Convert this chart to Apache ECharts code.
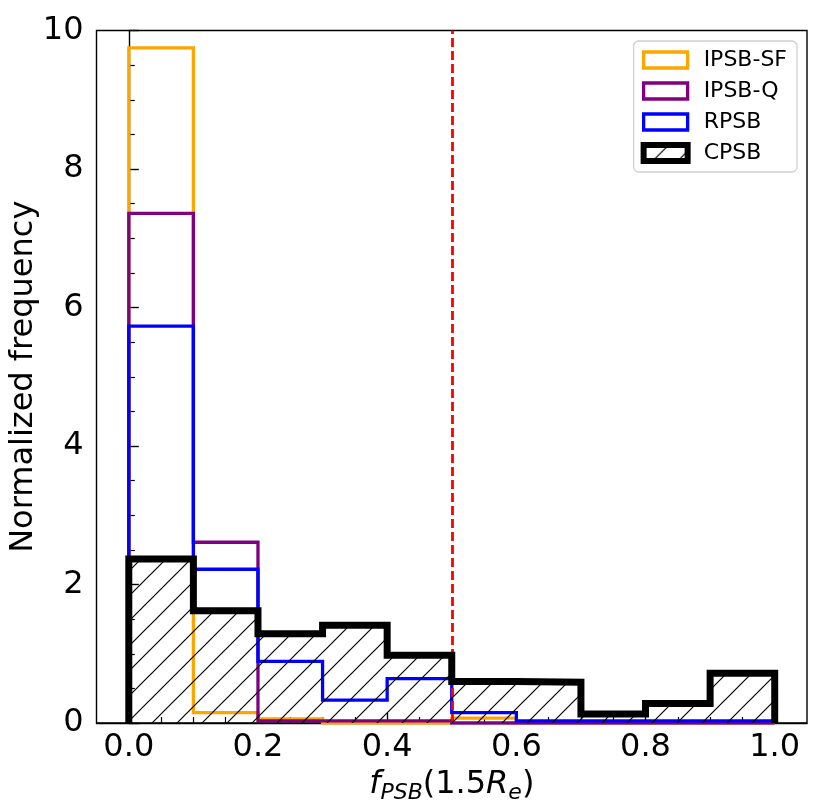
<!DOCTYPE html>
<html>
<head>
    <meta charset="utf-8">
    <title>f_PSB histogram</title>
    <script src="https://cdn.jsdelivr.net/npm/echarts@6/dist/echarts.min.js"></script>
</head>
<body style="margin:0">
<div id="main" style="width: 830px;height:805px;"></div>
<script type="text/javascript">

    /* data ==========================================*/
    var binEdges = [0.0, 0.1, 0.2, 0.3, 0.4, 0.5, 0.6, 0.7, 0.8, 0.9, 1.0];
    var ipsbSF = [9.75, 0.15, 0.06, 0.0, 0.0, 0.07, 0.0, 0.0, 0.0, 0.0];
    var ipsbQ  = [7.36, 2.61, 0.03, 0.03, 0.03, 0.0, 0.0, 0.0, 0.0, 0.0];
    var rpsb   = [5.73, 2.22, 0.89, 0.33, 0.64, 0.15, 0.03, 0.03, 0.03, 0.03];
    var cpsb   = [2.37, 1.62, 1.29, 1.41, 0.98, 0.60, 0.59, 0.13, 0.28, 0.72];
    var cutoff = 0.5;
    var xTicks = [0.0, 0.2, 0.4, 0.6, 0.8, 1.0];
    var xMinorTicks = [0.05, 0.1, 0.15, 0.25, 0.3, 0.35, 0.45, 0.5, 0.55, 0.65, 0.7, 0.75, 0.85, 0.9, 0.95];

    var FONT = 'DejaVu Sans';

    // histtype='step' outline from bin edges + heights
    function stepPoints(edges, h) {
        var pts = [[edges[0], 0]];
        for (var i = 0; i < h.length; i++) {
            pts.push([edges[i], h[i]]);
            pts.push([edges[i + 1], h[i]]);
        }
        pts.push([edges[edges.length - 1], 0]);
        return pts;
    }

    // '/' hatch tile
    function hatchTile() {
        var s = 25;
        var c = document.createElement('canvas');
        c.width = s; c.height = s;
        var g = c.getContext('2d');
        g.strokeStyle = '#000';
        g.lineWidth = 1.2;
        g.beginPath();
        g.moveTo(-2, s + 2); g.lineTo(s + 2, -2);
        g.moveTo(-2, 2); g.lineTo(2, -2);
        g.moveTo(s - 2, s + 2); g.lineTo(s + 2, s - 2);
        g.stroke();
        return c;
    }
    var hatch = {image: hatchTile(), repeat: 'repeat'};

    function stepSeries(name, h, color, width, z) {
        return {
            name: name,
            type: 'line',
            xAxisIndex: 0,
            data: stepPoints(binEdges, h),
            showSymbol: false,
            symbol: 'none',
            silent: true,
            z: z,
            lineStyle: {color: color, width: width, join: 'miter'},
            itemStyle: {color: color}
        };
    }

    var myChart = echarts.init(document.getElementById('main'));

    var cpsbSeries = stepSeries('CPSB', cpsb, '#000', 7, 5);
    cpsbSeries.areaStyle = {color: hatch, opacity: 1};

    myChart.setOption({
        animation: false,
        textStyle: {fontFamily: FONT, color: '#000'},
        grid: {
            left: 96.5, right: 23, top: 30.5, bottom: 82,
            outerBoundsMode: 'none',
            containLabel: false,
            show: true, borderColor: '#000', borderWidth: 1.4,
            backgroundColor: '#fff'
        },
        legend: {
            orient: 'vertical',
            right: 33, top: 41,
            backgroundColor: '#fff',
            borderColor: '#d0d0d0', borderWidth: 1.3, borderRadius: 5,
            padding: [8, 10, 8, 7],
            itemWidth: 44, itemHeight: 16, itemGap: 9,
            textStyle: {fontFamily: FONT, fontSize: 22, color: '#000', padding: [0, 0, 0, 11]},
            data: [
                {name: 'IPSB-SF', icon: 'rect', itemStyle: {color: '#fff', borderColor: '#ffa500', borderWidth: 3.3}},
                {name: 'IPSB-Q', icon: 'rect', itemStyle: {color: '#fff', borderColor: '#800080', borderWidth: 3.3}},
                {name: 'RPSB', icon: 'rect', itemStyle: {color: '#fff', borderColor: '#0000ff', borderWidth: 3.3}},
                {name: 'CPSB', icon: 'rect', itemStyle: {color: hatch, borderColor: '#000', borderWidth: 6}}
            ]
        },
        xAxis: [
            {
                type: 'value', position: 'bottom',
                min: -0.05, max: 1.05,
                name: '{it|f}{sub|PSB}{n|(1.5}{it|R}{sub|e}{n|)}',
                nameLocation: 'middle', nameGap: 46,
                nameMoveOverlap: false,
                nameTextStyle: {
                    rich: {
                        it: {fontFamily: FONT, fontSize: 32, fontStyle: 'italic', color: '#000', verticalAlign: 'bottom', padding: [0, 0, 3, 0]},
                        n: {fontFamily: FONT, fontSize: 32, color: '#000', verticalAlign: 'bottom', padding: [0, 0, 3, 0]},
                        sub: {fontFamily: FONT, fontSize: 22, fontStyle: 'italic', color: '#000', verticalAlign: 'bottom'}
                    }
                },
                splitLine: {show: false},
                axisLine: {lineStyle: {color: '#000', width: 1.4}},
                axisTick: {inside: true, length: 10, customValues: xTicks, lineStyle: {color: '#000', width: 1.4}},
                axisLabel: {
                    customValues: xTicks, margin: 9,
                    fontFamily: FONT, fontSize: 32, color: '#000',
                    formatter: function (v) { return v.toFixed(1); }
                }
            },
            {
                type: 'value', position: 'bottom', offset: 0,
                min: -0.05, max: 1.05,
                splitLine: {show: false},
                axisLine: {show: false},
                axisLabel: {show: false},
                axisTick: {inside: true, length: 6, customValues: xMinorTicks, lineStyle: {color: '#000', width: 1.2}}
            }
        ],
        yAxis: {
            type: 'value',
            min: 0, max: 10, interval: 2,
            name: 'Normalized frequency',
            nameLocation: 'middle', nameGap: 57,
            nameMoveOverlap: false,
            nameTextStyle: {fontFamily: FONT, fontSize: 32, color: '#000'},
            splitLine: {show: false},
            axisLine: {show: true, lineStyle: {color: '#000', width: 1.4}},
            axisTick: {show: true, inside: true, length: 10, lineStyle: {color: '#000', width: 1.4}},
            minorTick: {show: true, splitNumber: 4, length: 6, lineStyle: {color: '#000', width: 1.2}},
            axisLabel: {margin: 13, fontFamily: FONT, fontSize: 32, color: '#000'}
        },
        series: [
            stepSeries('IPSB-SF', ipsbSF, '#ffa500', 3.3, 2),
            stepSeries('IPSB-Q', ipsbQ, '#800080', 3.3, 3),
            stepSeries('RPSB', rpsb, '#0000ff', 3.3, 4),
            cpsbSeries,
            {
                name: 'cutoff',
                type: 'line',
                data: [],
                z: 10,
                markLine: {
                    silent: true,
                    symbol: 'none',
                    label: {show: false},
                    lineStyle: {color: '#ff0000', width: 2.8, type: [9, 4]},
                    data: [{xAxis: cutoff}]
                }
            }
        ]
    });

</script>
</body>
</html>
